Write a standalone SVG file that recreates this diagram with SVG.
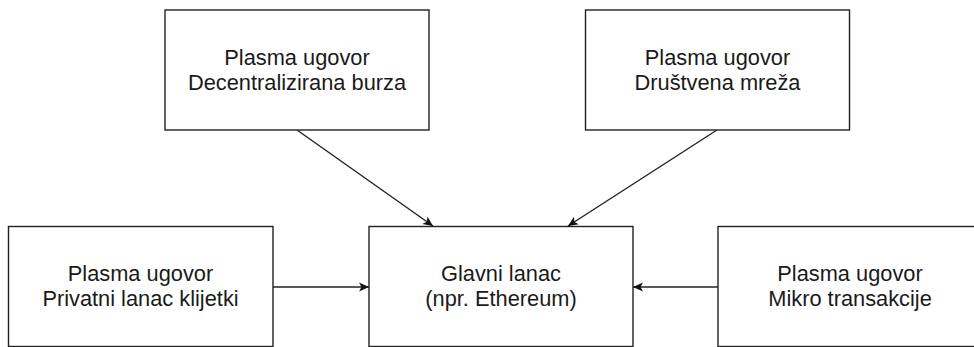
<svg xmlns="http://www.w3.org/2000/svg" width="974" height="347" viewBox="0 0 974 347">
<style>
.box{fill:#fff;stroke:#222;stroke-width:1.4}
.lbl{font-family:"Liberation Sans",Arial,sans-serif;font-size:21.8px;fill:#1a1a1a;text-anchor:middle}
.edge{fill:none;stroke:#222;stroke-width:1.4}
</style>
<defs>
<marker id="arr" markerUnits="userSpaceOnUse" viewBox="0 0 10 10" markerWidth="10" markerHeight="10" refX="10" refY="5" orient="auto">
<path d="M0,0.5 L10,5 L0,9.5 L2.5,5 Z" fill="#111"/>
</marker>
</defs>
<rect width="974" height="347" fill="#fff"/>
<g id="connectors">
<line class="edge" x1="297" y1="130" x2="433" y2="226" marker-end="url(#arr)"/>
<line class="edge" x1="717" y1="130" x2="568" y2="226" marker-end="url(#arr)"/>
<line class="edge" x1="273" y1="287" x2="369" y2="287" marker-end="url(#arr)"/>
<line class="edge" x1="718" y1="287" x2="633" y2="287" marker-end="url(#arr)"/>
</g>
<g id="node-dex">
<rect class="box" x="165" y="10" width="264" height="120"/>
<text class="lbl" x="297" y="65">Plasma ugovor</text>
<text class="lbl" x="297" y="90">Decentralizirana burza</text>
</g>
<g id="node-social">
<rect class="box" x="585.5" y="10" width="264" height="120"/>
<text class="lbl" x="717.5" y="65">Plasma ugovor</text>
<text class="lbl" x="717.5" y="90">Društvena mreža</text>
</g>
<g id="node-private">
<rect class="box" x="8.5" y="226.5" width="264.5" height="120"/>
<text class="lbl" x="140.5" y="281">Plasma ugovor</text>
<text class="lbl" x="140.5" y="306">Privatni lanac klijetki</text>
</g>
<g id="node-main">
<rect class="box" x="369" y="226.5" width="264" height="120"/>
<text class="lbl" x="501" y="281">Glavni lanac</text>
<text class="lbl" x="501" y="306">(npr. Ethereum)</text>
</g>
<g id="node-micro">
<rect class="box" x="718" y="226.5" width="264" height="120"/>
<text class="lbl" x="850" y="281">Plasma ugovor</text>
<text class="lbl" x="850" y="306">Mikro transakcije</text>
</g>
</svg>
